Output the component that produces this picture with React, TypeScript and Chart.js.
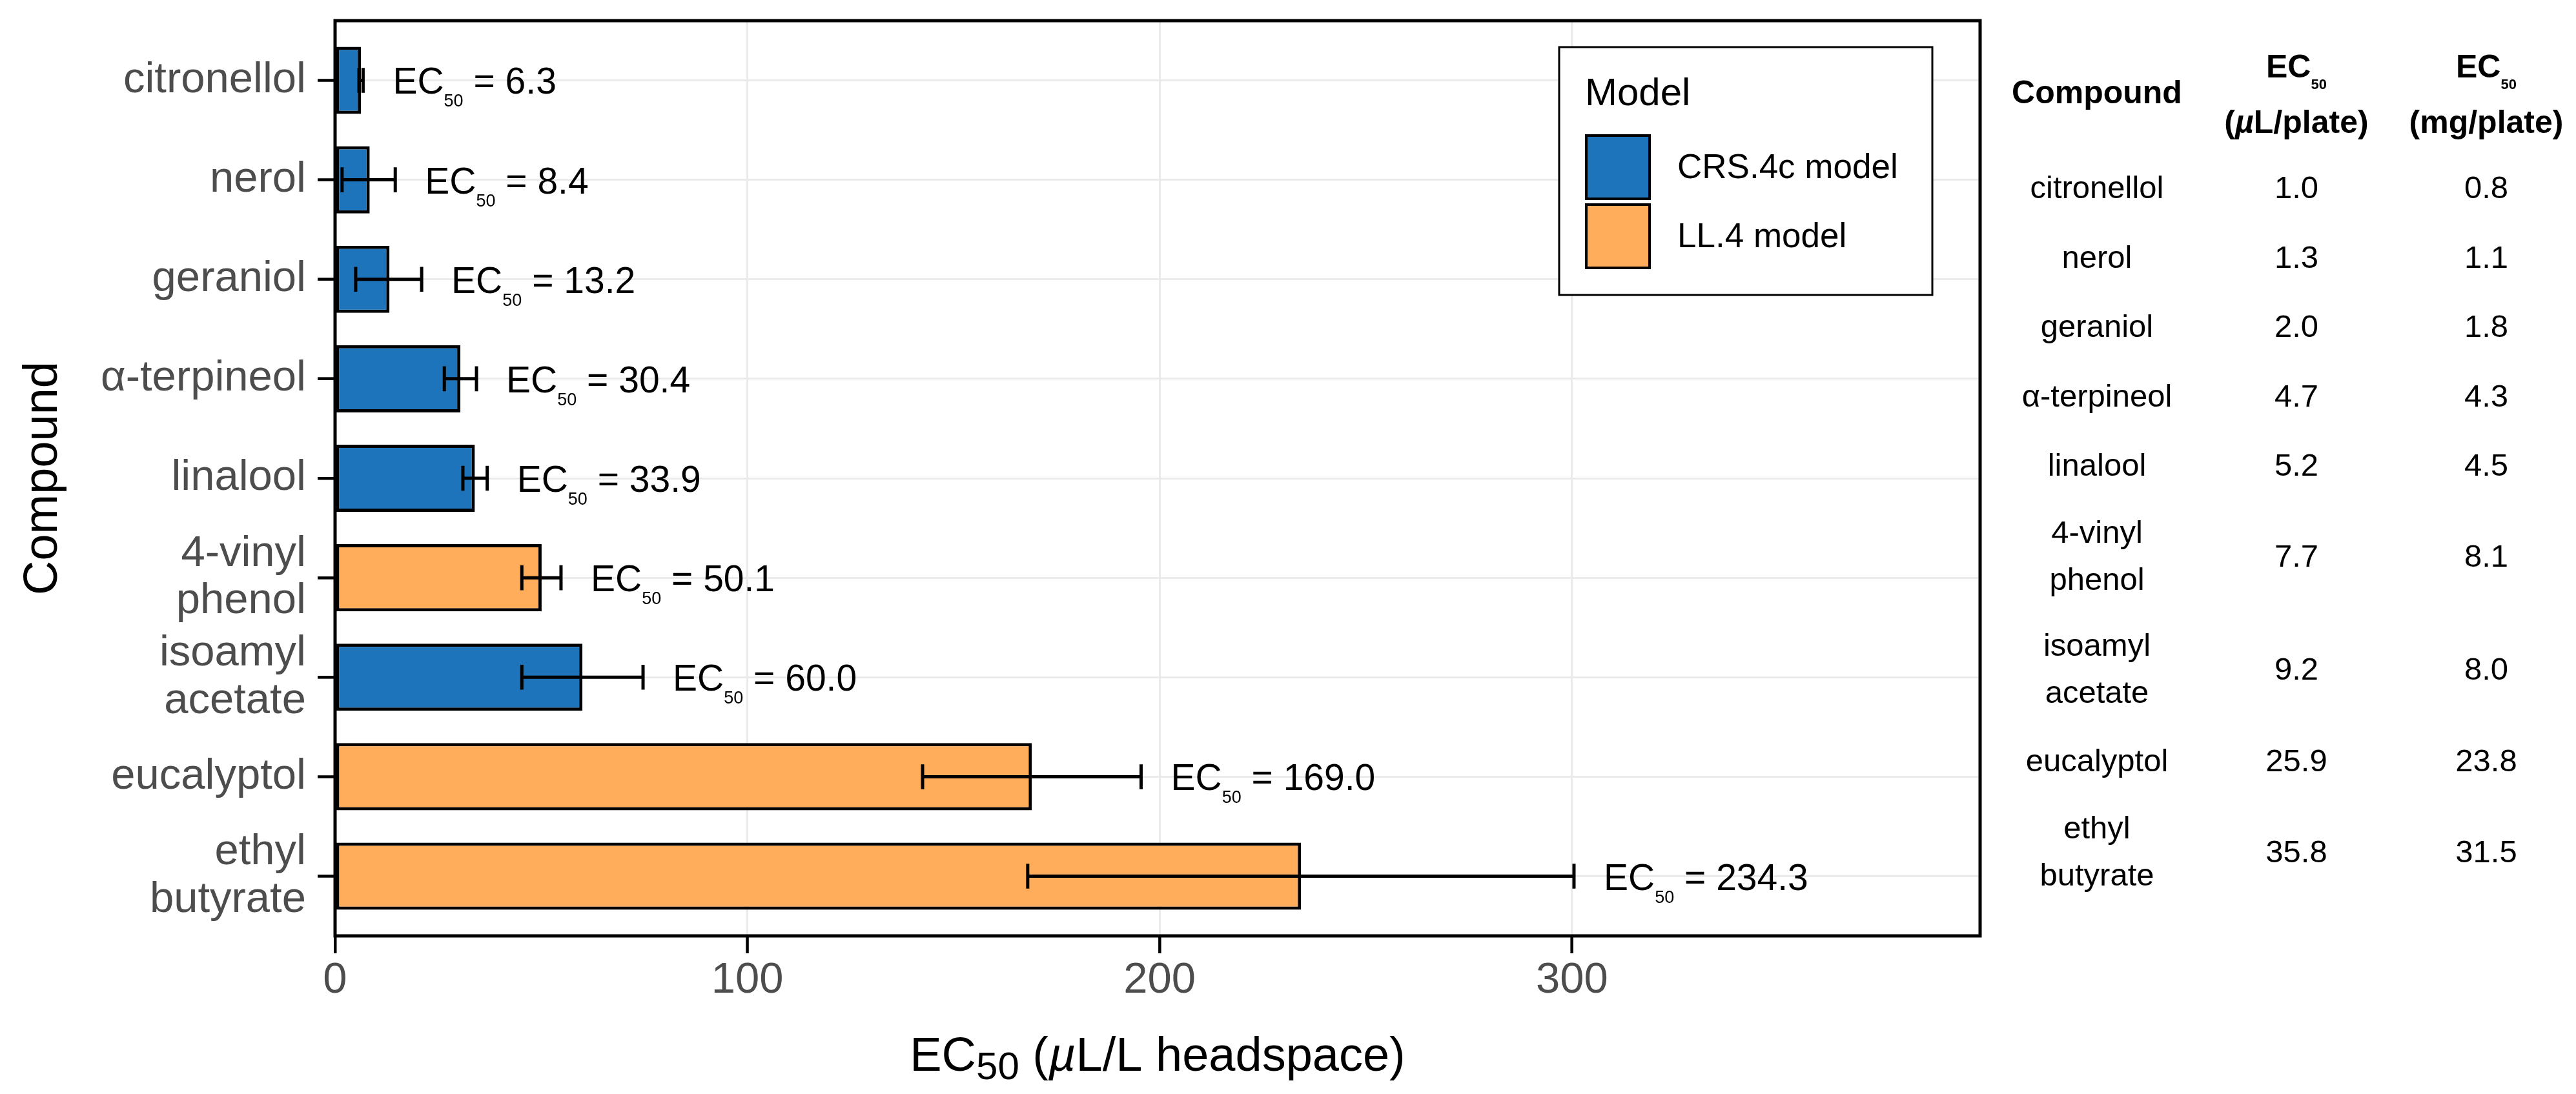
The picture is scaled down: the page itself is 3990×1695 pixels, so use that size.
import React, { useEffect, useRef } from 'react';
import { Chart, registerables } from 'chart.js';

Chart.register(...registerables);

// ---------------- data ----------------
const compounds = ['citronellol', 'nerol', 'geraniol', 'α-terpineol', 'linalool', '4-vinyl phenol', 'isoamyl acetate', 'eucalyptol', 'ethyl butyrate'];
const compoundLines = [['citronellol'], ['nerol'], ['geraniol'], ['α-terpineol'], ['linalool'], ['4-vinyl', 'phenol'], ['isoamyl', 'acetate'], ['eucalyptol'], ['ethyl', 'butyrate']];
const models = ['CRS.4c', 'CRS.4c', 'CRS.4c', 'CRS.4c', 'CRS.4c', 'LL.4', 'CRS.4c', 'LL.4', 'LL.4'];
const ec50 = [6.3, 8.4, 13.2, 30.4, 33.9, 50.1, 60.0, 169.0, 234.3];
const ciLower = [5.8, 1.7, 5.0, 26.5, 31.0, 45.3, 45.3, 142.5, 168.0];
const ciUpper = [6.8, 14.6, 21.0, 34.3, 36.9, 54.8, 74.7, 195.5, 300.5];
const xTicks = [0, 100, 200, 300];
const legendModels = ['CRS.4c', 'LL.4'];
const legendLabels = ['CRS.4c model', 'LL.4 model'];
const ecUlPlate = ['1.0', '1.3', '2.0', '4.7', '5.2', '7.7', '9.2', '25.9', '35.8'];
const ecMgPlate = ['0.8', '1.1', '1.8', '4.3', '4.5', '8.1', '8.0', '23.8', '31.5'];

// ---------------- style ----------------
const FONT = '"Liberation Sans", Arial, Helvetica, sans-serif';
const BLUE = '#1D74BA';
const ORANGE = '#FFAD5A';
const colorFor = (m: string) => (m === 'LL.4' ? ORANGE : BLUE);

const W = 3990;
const H = 1695;
const PLOT_LEFT = 519;
const PLOT_TOP = 32;
const PLOT_RIGHT = 3067;
const PLOT_BOTTOM = 1450;
const TICK_LEN = 27;

const overlayPlugin = {
  id: 'overlay',
  afterDatasetsDraw(chart: any) {
    const { ctx } = chart;
    const x = chart.scales.x;
    const y = chart.scales.y;
    ctx.save();
    ctx.strokeStyle = '#000';
    ctx.lineWidth = 5;
    ec50.forEach((v, i) => {
      const yc = y.getPixelForValue(i);
      const x0 = x.getPixelForValue(ciLower[i]);
      const x1 = x.getPixelForValue(ciUpper[i]);
      const h = Math.abs(y.getPixelForValue(i + 0.125) - yc);
      ctx.beginPath();
      ctx.moveTo(x0, yc);
      ctx.lineTo(x1, yc);
      ctx.moveTo(x0, yc - h);
      ctx.lineTo(x0, yc + h);
      ctx.moveTo(x1, yc - h);
      ctx.lineTo(x1, yc + h);
      ctx.stroke();

      let lx = x1 + 46;
      ctx.fillStyle = '#000';
      ctx.textAlign = 'left';
      ctx.textBaseline = 'alphabetic';
      ctx.font = `57px ${FONT}`;
      ctx.fillText('EC', lx, yc + 21);
      lx += ctx.measureText('EC').width;
      ctx.font = `27px ${FONT}`;
      ctx.fillText('50', lx, yc + 41);
      lx += ctx.measureText('50').width;
      ctx.font = `57px ${FONT}`;
      ctx.fillText(' = ' + v.toFixed(1), lx, yc + 21);
    });
    ctx.restore();
  },
  afterDraw(chart: any) {
    const { ctx, chartArea } = chart;
    const { left, right, top, bottom } = chartArea;
    const x = chart.scales.x;
    const y = chart.scales.y;
    ctx.save();

    // axis tick marks
    ctx.strokeStyle = '#000';
    ctx.lineWidth = 4;
    ctx.beginPath();
    compounds.forEach((_, i) => {
      const yc = y.getPixelForValue(i);
      ctx.moveTo(left - TICK_LEN, yc);
      ctx.lineTo(left, yc);
    });
    xTicks.forEach((v) => {
      const xc = x.getPixelForValue(v);
      ctx.moveTo(xc, bottom);
      ctx.lineTo(xc, bottom + TICK_LEN);
    });
    ctx.stroke();

    // panel border
    ctx.lineWidth = 5;
    ctx.strokeRect(left, top, right - left, bottom - top);

    // y axis title
    ctx.fillStyle = '#000';
    ctx.font = `74px ${FONT}`;
    ctx.textAlign = 'center';
    ctx.textBaseline = 'alphabetic';
    ctx.save();
    ctx.translate(88, (top + bottom) / 2);
    ctx.rotate(-Math.PI / 2);
    ctx.fillText('Compound', 0, 0);
    ctx.restore();

    // x axis title: EC50 (µL/L headspace)
    const parts = [
      { t: 'EC', f: `74px ${FONT}`, dy: 0 },
      { t: '50', f: `60px ${FONT}`, dy: 13 },
      { t: ' (', f: `74px ${FONT}`, dy: 0 },
      { t: 'µ', f: `italic 74px ${FONT}`, dy: 0 },
      { t: 'L/L headspace)', f: `74px ${FONT}`, dy: 0 },
    ];
    let total = 0;
    parts.forEach((p) => {
      ctx.font = p.f;
      total += ctx.measureText(p.t).width;
    });
    let px = (left + right) / 2 - total / 2;
    ctx.textAlign = 'left';
    parts.forEach((p) => {
      ctx.font = p.f;
      ctx.fillText(p.t, px, 1659 + p.dy);
      px += ctx.measureText(p.t).width;
    });

    // legend
    const lx0 = 2415, ly0 = 73, lx1 = 2993, ly1 = 457;
    ctx.fillStyle = '#fff';
    ctx.fillRect(lx0, ly0, lx1 - lx0, ly1 - ly0);
    ctx.strokeStyle = '#000';
    ctx.lineWidth = 3;
    ctx.strokeRect(lx0, ly0, lx1 - lx0, ly1 - ly0);
    ctx.fillStyle = '#000';
    ctx.font = `60px ${FONT}`;
    ctx.fillText('Model', 2455, 163);
    legendModels.forEach((m, i) => {
      const ky = 208 + i * 107;
      ctx.fillStyle = colorFor(m);
      ctx.fillRect(2457, ky + 2, 98, 98);
      ctx.strokeStyle = '#000';
      ctx.lineWidth = 4;
      ctx.strokeRect(2457, ky + 2, 98, 98);
      ctx.fillStyle = '#000';
      ctx.font = `53px ${FONT}`;
      ctx.textBaseline = 'middle';
      ctx.fillText(legendLabels[i], 2598, ky + 53);
      ctx.textBaseline = 'alphabetic';
    });
    ctx.restore();
  },
};

// ---------------- table ----------------
const ROW_SINGLE = 107.5;
const ROW_DOUBLE = 175;
const FIRST_ROW_TOP = 290 - ROW_SINGLE / 2;
const COL_X = [3248, 3557, 3851];

function rowCenters(): number[] {
  let acc = FIRST_ROW_TOP;
  return compoundLines.map((l) => {
    const h = l.length > 1 ? ROW_DOUBLE : ROW_SINGLE;
    const c = acc + h / 2;
    acc += h;
    return c;
  });
}

const cellBase: React.CSSProperties = {
  position: 'absolute',
  width: 400,
  textAlign: 'center',
  transform: 'translateY(-50%)',
  fontFamily: FONT,
  color: '#000',
  whiteSpace: 'nowrap',
};

function Table() {
  const centers = rowCenters();
  return (
    <>
      <div style={{ ...cellBase, left: COL_X[0] - 200, top: 143, fontSize: 50, fontWeight: 'bold', lineHeight: '73px' }}>Compound</div>
      <div style={{ ...cellBase, left: COL_X[1] - 200, top: 146, fontSize: 50, fontWeight: 'bold', lineHeight: '76px' }}>
        <div>
          EC<span style={{ fontSize: 22, position: 'relative', top: 18 }}>50</span>
        </div>
        <div>
          (<i>µ</i>L/plate)
        </div>
      </div>
      <div style={{ ...cellBase, left: COL_X[2] - 200, top: 146, fontSize: 50, fontWeight: 'bold', lineHeight: '76px' }}>
        <div>
          EC<span style={{ fontSize: 22, position: 'relative', top: 18 }}>50</span>
        </div>
        <div>(mg/plate)</div>
      </div>
      {compoundLines.map((lines, i) => (
        <React.Fragment key={compounds[i]}>
          <div style={{ ...cellBase, left: COL_X[0] - 200, top: centers[i], fontSize: 49, lineHeight: '73px' }}>
            {lines.map((l) => (
              <div key={l}>{l}</div>
            ))}
          </div>
          <div style={{ ...cellBase, left: COL_X[1] - 200, top: centers[i], fontSize: 49, lineHeight: '73px' }}>{ecUlPlate[i]}</div>
          <div style={{ ...cellBase, left: COL_X[2] - 200, top: centers[i], fontSize: 49, lineHeight: '73px' }}>{ecMgPlate[i]}</div>
        </React.Fragment>
      ))}
    </>
  );
}

export default function App() {
  const canvasRef = useRef<HTMLCanvasElement | null>(null);

  useEffect(() => {
    if (!canvasRef.current) return;
    const gridCommon = {
      color: '#EBEBEB',
      lineWidth: 3,
      tickColor: '#000',
      tickWidth: 4,
      drawTicks: true,
      tickLength: TICK_LEN,
      offset: false,
    };
    const chart = new Chart(canvasRef.current, {
      type: 'bar',
      data: {
        datasets: [
          {
            data: ec50.map((v, i) => ({ x: v, y: i })),
            backgroundColor: models.map(colorFor),
            borderColor: '#000',
            borderWidth: 5,
            borderSkipped: false,
            barPercentage: 0.675,
            categoryPercentage: 1,
          } as any,
        ],
      },
      options: {
        indexAxis: 'y',
        responsive: false,
        maintainAspectRatio: false,
        animation: false,
        devicePixelRatio: 1,
        layout: { padding: { left: 0, top: PLOT_TOP, right: W - PLOT_RIGHT, bottom: 0 } },
        plugins: {
          legend: { display: false },
          tooltip: { enabled: false },
        },
        scales: {
          x: {
            type: 'linear',
            min: 0,
            max: 399,
            offset: false,
            afterBuildTicks: (s: any) => {
              s.ticks = xTicks.map((v) => ({ value: v }));
            },
            afterFit: (s: any) => {
              s.height = H - PLOT_BOTTOM;
              s.paddingLeft = 0;
              s.paddingRight = 0;
            },
            grid: { ...gridCommon },
            border: { display: false },
            ticks: {
              color: '#4D4D4D',
              font: { family: FONT, size: 67, lineHeight: 1.2 },
              padding: 2,
              maxRotation: 0,
              autoSkip: false,
            },
          },
          y: {
            type: 'linear',
            min: -0.6,
            max: 8.6,
            reverse: true,
            offset: false,
            afterBuildTicks: (s: any) => {
              s.ticks = compounds.map((_, i) => ({ value: i }));
            },
            afterFit: (s: any) => {
              s.width = PLOT_LEFT;
              s.paddingTop = 0;
              s.paddingBottom = 0;
            },
            grid: { ...gridCommon },
            border: { display: false },
            ticks: {
              color: '#4D4D4D',
              font: { family: FONT, size: 67, lineHeight: 1.1 },
              padding: 18,
              autoSkip: false,
              callback: (v: any) => compoundLines[v as number] ?? '',
            },
          },
        },
      } as any,
      plugins: [overlayPlugin],
    });
    return () => chart.destroy();
  }, []);

  return (
    <div style={{ position: 'absolute', left: 0, top: 0, width: W, height: H, background: '#fff', overflow: 'hidden' }}>
      <canvas ref={canvasRef} width={W} height={H} style={{ position: 'absolute', left: 0, top: 0, width: W, height: H }} />
      <Table />
    </div>
  );
}
